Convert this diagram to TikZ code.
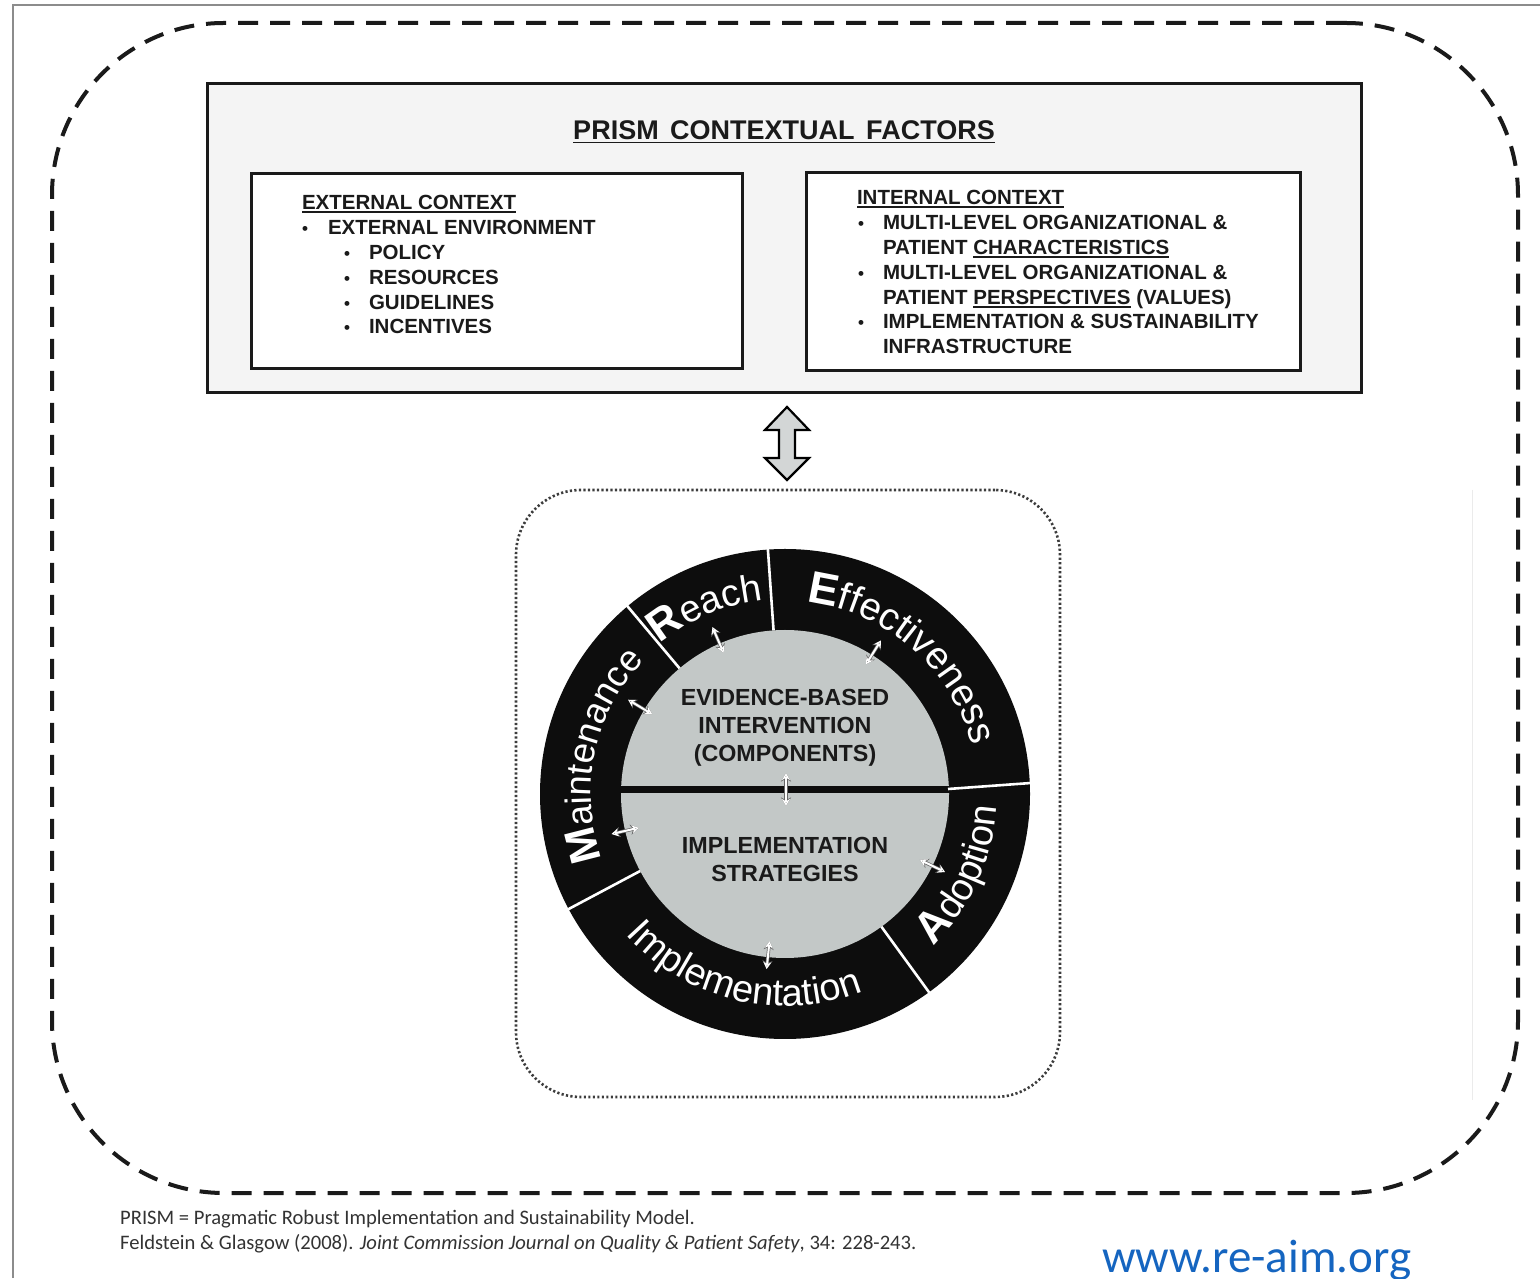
\documentclass[tikz,border=0pt]{standalone}
\usepackage{fontspec}
\setmainfont{Liberation Sans}
\newfontfamily\notefont{Carlito}
\usetikzlibrary{decorations.text,arrows.meta,calc}
\definecolor{ringblack}{HTML}{0D0D0D}
\definecolor{innergrey}{HTML}{C3C8C7}
\definecolor{boxgrey}{HTML}{F4F4F4}
\definecolor{arrowgrey}{HTML}{D3D6D6}
\definecolor{linkblue}{RGB}{21,101,192}
\definecolor{framegrey}{HTML}{8C8C8C}
\definecolor{notegrey}{HTML}{333333}
\definecolor{inkblack}{HTML}{1A1A1A}
\newsavebox\ulbox
\newcommand{\undl}[2][3.2pt]{\sbox\ulbox{#2}\rlap{\rule[-#1]{\wd\ulbox}{1.7pt}}\usebox\ulbox}
\tikzset{
  boxtext/.style={anchor=base west, inner sep=0, outer sep=0, font=\fontsize{20.5}{24}\selectfont\bfseries, text=inkblack},
  bul/.style={anchor=base, inner sep=0, outer sep=0, font=\fontsize{17}{24}\selectfont\bfseries, text=inkblack},
  framebox/.style={draw=inkblack, line width=3, inner sep=0, outer sep=0},
  tinyedge/.style={draw=black!60, line width=3.4pt, {Stealth[length=8.5pt,width=10pt]}-{Stealth[length=8.5pt,width=10pt]}},
  tinyarrow/.style={draw=white, line width=2pt, {Stealth[length=7pt,width=8pt]}-{Stealth[length=7pt,width=8pt]}},
  divider/.style={white, line width=2.6},
  innertext/.style={align=center, inner sep=0, font=\fontsize{23.3}{28}\selectfont\bfseries, text=inkblack}
}
\begin{document}
\begin{tikzpicture}[x=1pt,y=1pt]
\useasboundingbox (0,0) rectangle (1540,1278);
\fill[white] (0,0) rectangle (1540,1278);
% frame
\draw[framegrey, line width=2] (13,0) -- (13,1273) -- (1540,1273);
% faint edge
\draw[black!8, line width=1] (1472,788) -- (1472,178);
% outer dashed boundary
\node[draw=inkblack, line width=4, dash pattern=on 20pt off 12pt, rounded corners=172pt,
      minimum width=1466, minimum height=1170, inner sep=0] (outer) at (785,670) {};
% PRISM box
\node[framebox, fill=boxgrey, minimum width=1154, minimum height=309] (prism) at (784,1039.5) {};
\node[anchor=base, inner sep=0, font=\fontsize{27}{30}\selectfont\bfseries, text=inkblack] (title) at (784,1138)
  {\undl[3.5pt]{PRISM\hspace{4pt} CONTEXTUAL\hspace{4pt} FACTORS}};
% external context
\node[framebox, fill=white, minimum width=491, minimum height=195] (ext) at (496.5,1006.5) {};
\node[boxtext] (extt) at (302,1068) {\undl{EXTERNAL CONTEXT}};
\node[bul] (eb1) at (305,1043) {•};
\node[boxtext] (ex1) at (328,1043) {EXTERNAL ENVIRONMENT};
\node[bul] (eb2) at (347,1018) {•};
\node[boxtext] (ex2) at (369,1018) {POLICY};
\node[bul] (eb3) at (347,993) {•};
\node[boxtext] (ex3) at (369,993) {RESOURCES};
\node[bul] (eb4) at (347,968) {•};
\node[boxtext] (ex4) at (369,968) {GUIDELINES};
\node[bul] (eb5) at (347,944) {•};
\node[boxtext] (ex5) at (369,944) {INCENTIVES};
% internal context
\node[framebox, fill=white, minimum width=494, minimum height=198] (int) at (1053,1006) {};
\node[boxtext] (intt) at (857,1073) {\undl{INTERNAL CONTEXT}};
\node[bul] (ib1) at (861,1048) {•};
\node[boxtext] (in1) at (883,1048) {MULTI-LEVEL ORGANIZATIONAL \&};
\node[boxtext] (in2) at (883,1023) {PATIENT \undl{CHARACTERISTICS}};
\node[bul] (ib2) at (861,998) {•};
\node[boxtext] (in3) at (883,998) {MULTI-LEVEL ORGANIZATIONAL \&};
\node[boxtext] (in4) at (883,973) {PATIENT \undl{PERSPECTIVES} (VALUES)};
\node[bul] (ib3) at (861,949) {•};
\node[boxtext] (in5) at (883,949) {IMPLEMENTATION \& SUSTAINABILITY};
\node[boxtext] (in6) at (883,924) {INFRASTRUCTURE};
% dotted evaluation box
\node[draw=inkblack!85, line width=2.6, dash pattern=on 2.2pt off 2.3pt, rounded corners=65pt,
      minimum width=544, minimum height=607, inner sep=0] (evalbox) at (788,484.5) {};
% big double arrow between prism box and evaluation box
\draw[fill=arrowgrey, draw=black, line width=2.2, line join=miter]
  ([xshift=3pt,yshift=-14pt]prism.south) -- ++(22,-23) -- ++(-14,0) -- ++(0,-28) -- ++(14,0)
  -- ++(-22,-22) -- ++(-22,22) -- ++(14,0) -- ++(0,28) -- ++(-14,0) -- cycle;
% RE-AIM wheel
\begin{scope}[shift={(785,484)}]
  \fill[ringblack] (0,0) circle[radius=245];
  \fill[innergrey] (0,0) circle[radius=164];
  \begin{scope}
    \clip (0,0) circle[radius=164];
    \fill[ringblack] (-170,1) rectangle (170,8);
  \end{scope}
  \foreach \a in {130,94,-54,208} \draw[divider] (\a:164) -- (\a:246);
  \draw[divider] (163,5) -- (246,11);
  % labels
  \path[decorate, decoration={text along path, text align=center, text color=white,
     text={|\fontsize{44}{44}\selectfont\bfseries|R|\fontsize{38}{38}\selectfont|each}}]
     (153:195) arc[start angle=153, end angle=73, radius=195];
  \path[decorate, decoration={text along path, text align=center, text color=white,
     text={|\fontsize{45}{45}\selectfont\bfseries|E|\fontsize{38.5}{38.5}\selectfont|ffectiveness}}]
     (109:193) arc[start angle=109, end angle=-11, radius=193];
  \path[decorate, decoration={text along path, text align=center, text color=white,
     text={|\fontsize{43}{43}\selectfont\bfseries|M|\fontsize{36.5}{36.5}\selectfont|aintenance}}]
     (220:194) arc[start angle=220, end angle=116, radius=194];
  \path[decorate, decoration={text along path, text align=center, text color=white,
     text={|\fontsize{44}{44}\selectfont\bfseries|A|\fontsize{38}{38}\selectfont|doption}}]
     (-69.5:212) arc[start angle=-69.5, end angle=20.5, radius=212];
  \path[decorate, decoration={text along path, text align=center, text color=white,
     text={|\fontsize{38}{38}\selectfont|Implementation}}]
     (196.5:212) arc[start angle=196.5, end angle=316.5, radius=212];
  % inner texts
  \node[innertext] (ebi) at (0,66) {EVIDENCE-BASED\\INTERVENTION\\(COMPONENTS)};
  \node[innertext] (impl) at (0,-65) {IMPLEMENTATION\\STRATEGIES};
  % small double arrows
  \foreach \a/\r in {113.5/168, 58/167, 149/169, 193/164, -26/164, -96/162} {
    \begin{scope}[shift={(\a:\r)}, rotate=\a]
      \draw[tinyedge] (-14,0) -- (14,0);
      \draw[tinyarrow] (-14,0) -- (14,0);
    \end{scope}
  }
  \draw[tinyedge] (1,21) -- (1,-12);
  \draw[tinyarrow] (1,21) -- (1,-12);
\end{scope}
% notes
\node[anchor=base west, inner sep=0, font=\notefont\fontsize{20.6}{24}\selectfont, text=notegrey] (note1) at (120,54)
  {PRISM = Pragmatic Robust Implementation and Sustainability Model.};
\node[anchor=base west, inner sep=0, font=\notefont\fontsize{20.6}{24}\selectfont, text=notegrey] (note2) at (120,29)
  {Feldstein \& Glasgow (2008). \textit{Joint Commission Journal on Quality \& Patient Safety}, 34: 228-243.};
\node[anchor=base west, inner sep=0, font=\notefont\fontsize{47}{50}\selectfont, text=linkblue] (url) at (1102,6)
  {www.re-aim.org};
\end{tikzpicture}
\end{document}
